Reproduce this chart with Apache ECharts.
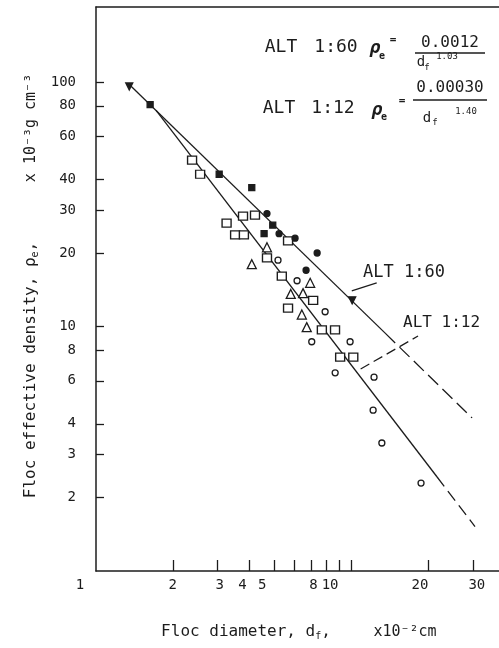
<!DOCTYPE html>
<html><head><meta charset="utf-8">
<script src="https://cdn.jsdelivr.net/npm/echarts@6/dist/echarts.min.js"></script>
<style>html,body{margin:0;padding:0;background:#fff}#c{width:499px;height:648px}</style>
</head><body><div id="c"></div>
<script>
// ---- axis ticks / labels (data units) ----
const xTickValues = [2, 3, 4, 5, 6, 7, 8, 9, 10, 20, 30];
const xTickLabels = [1, 2, 3, 4, 5, 8, 10, 20, 30];
const yTickValues = [2, 3, 4, 6, 8, 10, 20, 30, 40, 60, 80, 100];
const yTickLabels = [2, 3, 4, 6, 8, 10, 20, 30, 40, 60, 80, 100];
const xRange = [1, 38];
const yRange = [1, 203];

// ---- data: [floc diameter (x10^-2 cm), effective density (x10^-3 g cm^-3)] ----
const filledSquares = [[1.63, 81], [3.04, 42], [4.08, 37], [4.93, 26], [4.56, 24]];
const filledCircles = [[4.68, 29], [5.22, 24], [7.36, 20], [6.66, 17], [6.03, 23]];
const filledTriangles = [[1.35, 96], [10.1, 12.8]];
const openSquares = [[2.38, 48], [2.56, 42], [3.25, 26.5], [3.51, 23.7], [3.80, 23.7], [4.20, 28.6], [3.77, 28.3],
  [5.66, 22.4], [5.35, 16.1], [7.10, 12.8], [5.66, 11.9], [7.68, 9.7], [8.65, 9.7], [9.06, 7.5], [10.2, 7.5], [4.68, 19.1]];
const openTriangles = [[4.68, 21.1], [4.08, 18.0], [6.91, 15.1], [5.80, 13.6], [6.48, 13.7], [6.41, 11.2], [6.70, 9.95]];
const openCircles = [[5.17, 18.7], [6.14, 15.4], [7.01, 8.67], [9.91, 8.67], [8.66, 6.47], [12.3, 6.21],
  [12.2, 4.55], [13.2, 3.34], [18.8, 2.29], [7.91, 11.5]];

// fitted lines
const alt60Solid = [[1.36, 97.2], [13.6, 9.4]];
const alt60Dashed = [[13.6, 9.4], [29.8, 4.23]];
const alt12Solid = [[1.72, 76.6], [21.7, 2.43]];
const alt12Dashed = [[21.7, 2.43], [30.6, 1.52]];
// label pointers
const alt60Pointer = [[10.06, 14.0], [12.6, 15.1]];
const alt12Pointer = [[10.9, 6.70], [18.3, 9.15]];

// ---- styling ----
const INK = '#1c1c1c';
const MONO = '"DejaVu Sans Mono", "Liberation Mono", monospace';
const xLabelShift = {1: -16, 2: 0, 3: 2, 4: -7, 5: -12, 8: -13, 10: -21, 20: -8, 30: 4};

const lg = Math.log10;
const toLog = arr => arr.map(p => [lg(p[0]), lg(p[1])]);
const fmt = v => String(Math.round(Math.pow(10, v)));

const xRich = {};
xTickLabels.forEach(v => {
  const s = xLabelShift[v] || 0;
  xRich['L' + v] = {
    fontFamily: MONO, fontSize: 14, color: INK,
    padding: s < 0 ? [0, -2 * s, 0, 0] : [0, 0, 0, 2 * s]
  };
});

function lineSeries(data, dashed, width) {
  return {
    type: 'line', data: toLog(data), showSymbol: false, silent: true, z: 2,
    lineStyle: {color: INK, width: width || 1.3, type: dashed ? dashed : 'solid'}
  };
}
function scatter(data, symbol, size, filled, rotate) {
  return {
    type: 'scatter', data: toLog(data), symbol: symbol, symbolSize: size,
    symbolRotate: rotate || 0, z: 3,
    itemStyle: {color: filled ? INK : '#ffffff', borderColor: INK, borderWidth: 1.3, opacity: 1}
  };
}

function txt(text, x, y, size, extra) {
  return Object.assign({
    type: 'text', x: x, y: y, z: 10,
    style: Object.assign({text: text, fill: INK, font: size + 'px ' + MONO, textAlign: 'center', textVerticalAlign: 'middle'}, (extra && extra.style) || {})
  }, extra && extra.el || {});
}
function bar(x1, x2, y) {
  return {type: 'line', z: 10, shape: {x1: x1, y1: y, x2: x2, y2: y}, style: {stroke: INK, lineWidth: 1.3}};
}

const chart = echarts.init(document.getElementById('c'));
chart.setOption({
  animation: false,
  backgroundColor: '#ffffff',
  grid: {left: 96, right: 0, top: 7, bottom: 77},
  xAxis: [{
    type: 'value', min: lg(xRange[0]), max: lg(xRange[1]),
    axisLine: {show: true, lineStyle: {color: INK, width: 1.5}},
    axisTick: {show: true, inside: true, length: 11, customValues: xTickValues.map(lg), lineStyle: {color: INK, width: 1.3}},
    axisLabel: {
      customValues: xTickLabels.map(lg), margin: 7, rich: xRich,
      formatter: v => { const n = fmt(v); return '{L' + n + '|' + n + '}'; }
    },
    splitLine: {show: false}
  }, {
    type: 'value', position: 'top', min: lg(xRange[0]), max: lg(xRange[1]),
    axisLine: {show: true, lineStyle: {color: INK, width: 1.5}},
    axisTick: {show: false}, axisLabel: {show: false}, splitLine: {show: false}
  }],
  yAxis: {
    type: 'value', min: lg(yRange[0]), max: lg(yRange[1]),
    axisLine: {show: true, lineStyle: {color: INK, width: 1.5}},
    axisTick: {show: true, inside: true, length: 8, customValues: yTickValues.map(lg), lineStyle: {color: INK, width: 1.3}},
    axisLabel: {customValues: yTickLabels.map(lg), formatter: fmt, margin: 20, fontFamily: MONO, fontSize: 14, color: INK},
    splitLine: {show: false}
  },
  series: [
    lineSeries(alt60Solid),
    lineSeries(alt60Dashed, [14, 6]),
    lineSeries(alt12Solid),
    lineSeries(alt12Dashed, [12, 6]),
    lineSeries(alt60Pointer, null, 1.2),
    lineSeries(alt12Pointer, [10, 5], 1.2),
    scatter(openSquares, 'rect', [9, 8], false),
    scatter(openTriangles, 'triangle', 9, false),
    scatter(openCircles, 'circle', 6, false),
    scatter(filledSquares, 'rect', 6, true),
    scatter(filledCircles, 'circle', 6, true),
    scatter(filledTriangles, 'triangle', 7, true, 180)
  ],
  graphic: [
    // formula 1
    txt('ALT', 281, 47, 18), txt('1:60', 336, 47, 18),
    txt('ρ', 375, 48, 18, {style: {font: 'italic bold 18px ' + MONO}}),
    txt('e', 382, 56, 10, {style: {font: 'bold 10px ' + MONO}}),
    txt('=', 393, 40, 11, {style: {font: 'bold 11px ' + MONO}}),
    txt('0.0012', 450, 43, 16),
    bar(415, 485, 53),
    txt('d', 421, 62, 14), txt('f', 427, 68, 9), txt('1.03', 447, 57, 9),
    // formula 2
    txt('ALT', 279, 108, 18), txt('1:12', 333, 108, 18),
    txt('ρ', 377, 110, 18, {style: {font: 'italic bold 18px ' + MONO}}),
    txt('e', 384, 117, 10, {style: {font: 'bold 10px ' + MONO}}),
    txt('=', 402, 101, 11, {style: {font: 'bold 11px ' + MONO}}),
    txt('0.00030', 450, 88, 16),
    bar(413, 487, 100),
    txt('d', 427, 118, 14), txt('f', 435, 123, 9), txt('1.40', 466, 112, 9),
    // line labels
    txt('ALT 1:60', 363, 273, 17, {style: {textAlign: 'left'}}),
    txt('ALT 1:12', 403, 323, 16, {style: {textAlign: 'left'}}),
    // axis titles
    txt('{a|Floc effective density, ρ}{b|e}{a|,}', 31, 370, 16, {
      el: {rotation: Math.PI / 2},
      style: {rich: {a: {fontFamily: MONO, fontSize: 16, color: INK}, b: {fontFamily: MONO, fontSize: 10, color: INK, padding: [8, 0, 0, 0]}}}
    }),
    txt('x 10⁻³g cm⁻³', 31, 128, 15, {el: {rotation: Math.PI / 2}}),
    txt('{a|Floc diameter, d}{b|f}{a|,}', 246, 632, 16, {
      style: {rich: {a: {fontFamily: MONO, fontSize: 16, color: INK}, b: {fontFamily: MONO, fontSize: 10, color: INK, padding: [8, 0, 0, 0]}}}
    }),
    txt('x10⁻²cm', 405, 632, 15)
  ]
});
</script></body></html>
